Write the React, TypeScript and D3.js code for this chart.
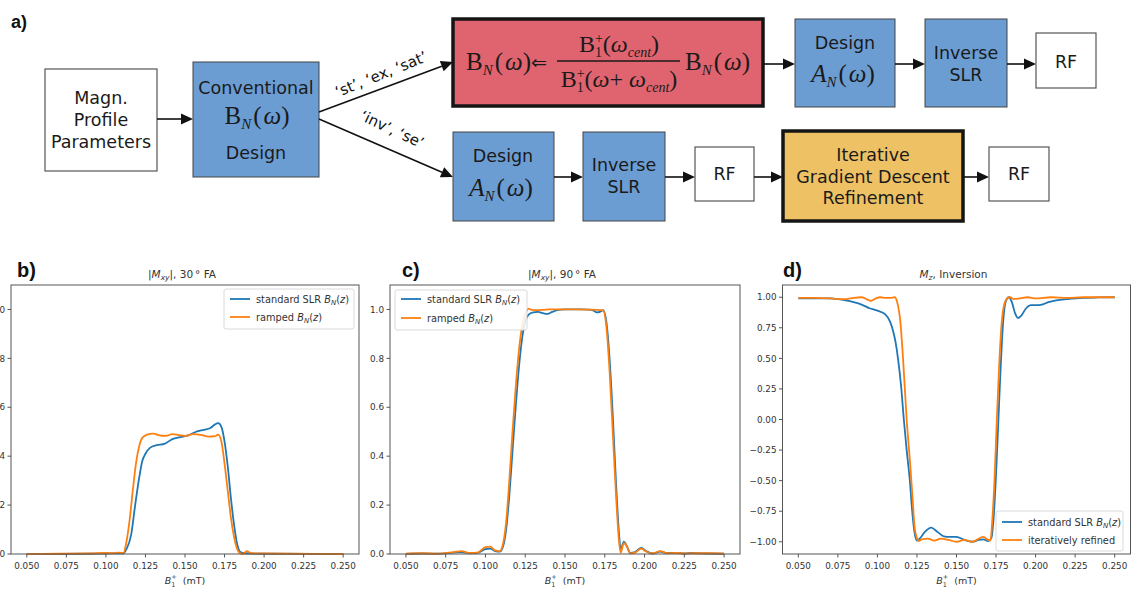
import React from 'react'
import * as d3 from 'd3'

type Pt = [number, number]

// tick values (B1+ in mT, magnetisation)
const xTicks = [0.05, 0.075, 0.1, 0.125, 0.15, 0.175, 0.2, 0.225, 0.25]
const yTicksMxy = [0, 0.2, 0.4, 0.6, 0.8, 1.0]
const yTicksMz = [-1, -0.75, -0.5, -0.25, 0, 0.25, 0.5, 0.75, 1]

// b) |Mxy|, 30 deg FA
const b30Standard: Pt[] = [
  [0.05, 0], [0.07, 0], [0.09, 0.001], [0.1, 0.002], [0.108, 0.003], [0.111, 0.002],
  [0.113, 0.02], [0.116, 0.08], [0.1185, 0.2], [0.121, 0.31], [0.123, 0.38], [0.125, 0.41],
  [0.128, 0.435], [0.132, 0.445], [0.137, 0.45], [0.142, 0.47], [0.147, 0.478], [0.152, 0.485],
  [0.157, 0.5], [0.162, 0.508], [0.166, 0.515], [0.169, 0.53], [0.171, 0.535], [0.173, 0.52],
  [0.175, 0.46], [0.177, 0.36], [0.179, 0.23], [0.181, 0.12], [0.183, 0.04], [0.185, 0.008],
  [0.188, 0.003], [0.2, 0.001], [0.25, 0],
]
const b30Ramped: Pt[] = [
  [0.05, 0], [0.07, 0.001], [0.09, 0.002], [0.1, 0.004], [0.105, 0.003], [0.108, 0.006],
  [0.111, 0.004], [0.113, 0.05], [0.115, 0.14], [0.117, 0.26], [0.119, 0.37], [0.121, 0.44],
  [0.123, 0.475], [0.126, 0.488], [0.13, 0.492], [0.134, 0.485], [0.138, 0.483], [0.142, 0.49],
  [0.146, 0.486], [0.15, 0.483], [0.155, 0.49], [0.16, 0.487], [0.165, 0.48], [0.169, 0.482],
  [0.171, 0.488], [0.173, 0.46], [0.175, 0.37], [0.177, 0.26], [0.179, 0.15], [0.181, 0.07],
  [0.183, 0.02], [0.185, 0.003], [0.187, 0.001], [0.189, 0.012], [0.192, 0.003], [0.2, 0.002],
  [0.25, 0],
]

// c) |Mxy|, 90 deg FA
const c90Standard: Pt[] = [
  [0.05, 0], [0.06, 0.002], [0.07, 0.001], [0.08, 0.006], [0.085, 0.008], [0.09, 0.003],
  [0.095, 0.005], [0.1, 0.02], [0.103, 0.022], [0.106, 0.012], [0.109, 0.01], [0.111, 0.03],
  [0.113, 0.1], [0.115, 0.24], [0.117, 0.42], [0.119, 0.6], [0.121, 0.76], [0.123, 0.88],
  [0.125, 0.95], [0.127, 0.978], [0.13, 0.988], [0.133, 0.99], [0.136, 0.985], [0.139, 0.982],
  [0.142, 0.99], [0.146, 0.998], [0.15, 1.0], [0.16, 1.0], [0.165, 0.999], [0.168, 0.995],
  [0.17, 0.988], [0.172, 0.99], [0.174, 0.997], [0.176, 0.95], [0.178, 0.8], [0.18, 0.57],
  [0.182, 0.3], [0.184, 0.08], [0.185, 0.02], [0.187, 0.05], [0.189, 0.03], [0.191, 0.005],
  [0.194, 0.008], [0.198, 0.025], [0.201, 0.012], [0.205, 0.002], [0.21, 0.01], [0.214, 0.004],
  [0.22, 0.005], [0.225, 0.002], [0.23, 0.004], [0.24, 0.002], [0.25, 0.001],
]
const c90Ramped: Pt[] = [
  [0.05, 0.001], [0.06, 0.003], [0.07, 0.001], [0.08, 0.008], [0.085, 0.012], [0.09, 0.004],
  [0.095, 0.006], [0.1, 0.028], [0.103, 0.03], [0.106, 0.015], [0.109, 0.012], [0.111, 0.04],
  [0.113, 0.13], [0.115, 0.3], [0.117, 0.5], [0.119, 0.68], [0.121, 0.83], [0.123, 0.93],
  [0.125, 0.98], [0.127, 1.003], [0.129, 0.998], [0.132, 0.997], [0.14, 1.0], [0.15, 1.0],
  [0.16, 1.0], [0.17, 0.998], [0.174, 0.995], [0.176, 0.93], [0.178, 0.75], [0.18, 0.5],
  [0.182, 0.25], [0.184, 0.05], [0.185, 0.005], [0.187, 0.045], [0.189, 0.03], [0.191, 0.003],
  [0.194, 0.006], [0.198, 0.022], [0.201, 0.01], [0.205, 0.002], [0.21, 0.012], [0.214, 0.003],
  [0.22, 0.004], [0.225, 0.002], [0.23, 0.003], [0.24, 0.003], [0.25, 0.001],
]

// d) Mz, inversion
const dInvStandard: Pt[] = [
  [0.05, 0.99], [0.06, 0.99], [0.07, 0.99], [0.075, 0.985], [0.08, 0.975], [0.085, 0.96],
  [0.09, 0.94], [0.095, 0.91], [0.1, 0.89], [0.105, 0.86], [0.108, 0.8], [0.11, 0.72],
  [0.1115, 0.63], [0.113, 0.5], [0.115, 0.27], [0.1167, 0.0], [0.1185, -0.25], [0.1205, -0.5],
  [0.122, -0.75], [0.1232, -0.9], [0.125, -0.99], [0.127, -0.97], [0.13, -0.92], [0.134, -0.885],
  [0.138, -0.92], [0.142, -0.955], [0.146, -0.96], [0.15, -0.96], [0.155, -0.985], [0.16, -1.0],
  [0.164, -0.985], [0.167, -0.98], [0.17, -0.995], [0.172, -0.97], [0.1735, -0.8], [0.175, -0.45],
  [0.1765, 0.0], [0.178, 0.45], [0.1795, 0.8], [0.181, 0.96], [0.183, 1.0], [0.185, 0.96],
  [0.187, 0.87], [0.189, 0.83], [0.191, 0.85], [0.194, 0.91], [0.197, 0.935], [0.2, 0.935],
  [0.204, 0.94], [0.208, 0.96], [0.213, 0.975], [0.22, 0.985], [0.23, 0.995], [0.24, 0.998],
  [0.25, 1.0],
]
const dInvRefined: Pt[] = [
  [0.05, 0.995], [0.06, 0.995], [0.07, 0.99], [0.075, 0.985], [0.08, 0.985], [0.085, 0.995],
  [0.09, 1.0], [0.093, 0.985], [0.096, 0.97], [0.099, 0.99], [0.102, 1.0], [0.105, 0.995],
  [0.108, 0.995], [0.111, 1.0], [0.1125, 0.96], [0.1145, 0.8], [0.1162, 0.5], [0.1185, 0.0],
  [0.1205, -0.33], [0.122, -0.6], [0.1235, -0.88], [0.125, -0.97], [0.126, -0.995], [0.128, -0.98],
  [0.132, -0.975], [0.136, -0.99], [0.14, -0.975], [0.145, -0.985], [0.15, -1.0], [0.155, -0.985],
  [0.16, -1.0], [0.164, -0.975], [0.167, -0.96], [0.17, -0.985], [0.1715, -0.99], [0.1725, -0.85],
  [0.174, -0.5], [0.1755, 0.0], [0.177, 0.45], [0.1785, 0.78], [0.18, 0.93], [0.182, 0.99],
  [0.184, 1.0], [0.186, 0.985], [0.19, 0.99], [0.195, 1.0], [0.2, 0.99], [0.21, 1.0],
  [0.22, 0.995], [0.23, 1.0], [0.24, 1.0], [0.25, 1.0],
]

const BLUE = '#1f77b4'
const ORANGE = '#ff7f0e'
const AX = '#555'
const TXT = '#333'
const MPL = 'DejaVu Sans, sans-serif'
const SERIF = 'Liberation Serif, serif'

const BOX_BLUE = '#6b9dd3'
const BOX_RED = '#e0646f'
const BOX_YEL = '#eec165'

type Series = { data: Pt[]; color: string }
type LegendItem = { label: React.ReactNode; color: string }

const BN = () => (
  <>
    <tspan fontStyle="italic">B</tspan>
    <tspan fontStyle="italic" fontSize={7} dy={2}>N</tspan>
    <tspan dy={-2}>(</tspan>
    <tspan fontStyle="italic">z</tspan>
    <tspan>)</tspan>
  </>
)

const Panel = ({
  left, right, top, bottom, ylim, yTicks, yFmt, series, legend, title, tag, tagX,
}: {
  left: number; right: number; top: number; bottom: number; ylim: [number, number]
  yTicks: number[]; yFmt: string; series: Series[]
  legend: { x: number; y: number; w: number; h: number; rows: number[]; items: LegendItem[] }
  title: React.ReactNode; tag: string; tagX: number
}) => {
  const x = d3.scaleLinear().domain([0.04, 0.26]).range([left, right])
  const y = d3.scaleLinear().domain(ylim).range([bottom, top])
  const line = d3.line<Pt>().x((d) => x(d[0])).y((d) => y(d[1])).curve(d3.curveMonotoneX)
  const fx = d3.format('.3f')
  const fy = d3.format(yFmt)
  const cx = (left + right) / 2
  return (
    <g>
      <text x={tagX} y={277} fontFamily="Liberation Sans, Arial, sans-serif" fontWeight="bold" fontSize={20} fill="#111">{tag}</text>
      <text x={cx - 3} y={278} textAnchor="middle" fontFamily={MPL} fontSize={10.5} fill={TXT}>{title}</text>
      {series.map((s, i) => (
        <path key={i} d={line(s.data) || ''} fill="none" stroke={s.color} strokeWidth={1.8} strokeLinejoin="round" />
      ))}
      <rect x={left} y={top} width={right - left} height={bottom - top} fill="none" stroke={AX} strokeWidth={1} />
      {xTicks.map((t) => (
        <g key={t}>
          <line x1={x(t)} x2={x(t)} y1={bottom} y2={bottom + 3.5} stroke={AX} />
          <text x={x(t)} y={569} textAnchor="middle" fontFamily={MPL} fontSize={8.8} fill={TXT}>{fx(t)}</text>
        </g>
      ))}
      {yTicks.map((t) => (
        <g key={t}>
          <line x1={left - 3.5} x2={left} y1={y(t)} y2={y(t)} stroke={AX} />
          <text x={left - 6} y={y(t) + 3.2} textAnchor="end" fontFamily={MPL} fontSize={8.8} fill={TXT}>{fy(t)}</text>
        </g>
      ))}
      <text x={cx} y={584} textAnchor="middle" fontFamily={MPL} fontSize={9.5} fill={TXT}>
        <tspan fontStyle="italic">B</tspan>
        <tspan fontSize={6.5} dy={2.5}>1</tspan>
        <tspan fontSize={6.5} dx={-4} dy={-7.5}>+</tspan>
        <tspan dx={3} dy={5}>{' (mT)'}</tspan>
      </text>
      <rect x={legend.x} y={legend.y} width={legend.w} height={legend.h} rx={2} fill="#fff" fillOpacity={0.85} stroke="#d0d0d0" strokeWidth={0.8} />
      {legend.items.map((it, i) => (
        <g key={i}>
          <line x1={legend.x + 6} x2={legend.x + 26} y1={legend.rows[i]} y2={legend.rows[i]} stroke={it.color} strokeWidth={1.8} />
          <text x={legend.x + 32} y={legend.rows[i] + 3.5} fontFamily={MPL} fontSize={9.8} fill={TXT}>{it.label}</text>
        </g>
      ))}
    </g>
  )
}

const Box = ({ x, y, w, h, fill, stroke = '#444', sw = 1 }: { x: number; y: number; w: number; h: number; fill: string; stroke?: string; sw?: number }) => (
  <rect x={x} y={y} width={w} height={h} fill={fill} stroke={stroke} strokeWidth={sw} />
)

const Arrow = ({ x1, y1, x2, y2 }: { x1: number; y1: number; x2: number; y2: number }) => {
  const dx = x2 - x1
  const dy = y2 - y1
  const len = Math.hypot(dx, dy)
  const ux = dx / len
  const uy = dy / len
  const hl = 12
  const hw = 5.5
  const bx = x2 - ux * hl
  const by = y2 - uy * hl
  return (
    <g>
      <line x1={x1} y1={y1} x2={bx} y2={by} stroke="#111" strokeWidth={1.6} />
      <polygon points={`${x2},${y2} ${bx - uy * hw},${by + ux * hw} ${bx + uy * hw},${by - ux * hw}`} fill="#111" />
    </g>
  )
}

const Lines = ({ cx, ys, lines, size = 17.5 }: { cx: number; ys: number[]; lines: string[]; size?: number }) => (
  <>
    {lines.map((l, i) => (
      <text key={i} x={cx} y={ys[i]} textAnchor="middle" fontFamily={MPL} fontSize={size} fill="#1a1a1a">{l}</text>
    ))}
  </>
)

const AN = ({ cx, y }: { cx: number; y: number }) => (
  <text x={cx} y={y} textAnchor="middle" fontFamily={SERIF} fontSize={25} fill="#1a1a1a">
    <tspan fontStyle="italic">A</tspan>
    <tspan fontStyle="italic" fontSize={15} dy={5}>N</tspan>
    <tspan dx={2} dy={-5}>(</tspan>
    <tspan fontStyle="italic" dx={2}>ω</tspan>
    <tspan>)</tspan>
  </text>
)

const Flow = () => (
  <g>
    <text x={11} y={28} fontFamily="Liberation Sans, Arial, sans-serif" fontWeight="bold" fontSize={18} fill="#111">a)</text>

    <Box x={45} y={69} w={112} h={102} fill="#fff" stroke="#555" sw={1.2} />
    <Lines cx={101} ys={[104, 126, 148]} lines={['Magn.', 'Profile', 'Parameters']} />

    <Box x={193} y={62} w={126} h={115} fill={BOX_BLUE} />
    <Lines cx={256} ys={[94, 159]} lines={['Conventional', 'Design']} />
    <text x={257} y={124} textAnchor="middle" fontFamily={SERIF} fontSize={25} fill="#1a1a1a">
      <tspan>B</tspan>
      <tspan fontStyle="italic" fontSize={15} dy={5}>N</tspan>
      <tspan dx={2} dy={-5}>(</tspan>
      <tspan fontStyle="italic" dx={2}>ω</tspan>
      <tspan>)</tspan>
    </text>

    <Arrow x1={157} y1={119} x2={193} y2={119} />
    <Arrow x1={319} y1={112} x2={453} y2={62} />
    <Arrow x1={319} y1={119} x2={453} y2={177} />
    <text transform="translate(383,79) rotate(-22)" textAnchor="middle" fontFamily={MPL} fontSize={15} fill="#111">‘st’, ‘ex, ‘sat’</text>
    <text transform="translate(390,134) rotate(25)" textAnchor="middle" fontFamily={MPL} fontSize={15} fill="#111">‘inv’, ‘se’</text>

    <Box x={453} y={19} w={310} h={87} fill={BOX_RED} stroke="#151515" sw={3.5} />
    <text x={466} y={70} fontFamily={SERIF} fontSize={25} fill="#1a1a1a">
      <tspan>B</tspan>
      <tspan fontStyle="italic" fontSize={15} dy={5}>N</tspan>
      <tspan dx={2} dy={-5}>(</tspan>
      <tspan fontStyle="italic" dx={2}>ω</tspan>
      <tspan>)</tspan>
      <tspan fontSize={19} dy={-1}>⇐</tspan>
    </text>
    <text x={619} y={52} textAnchor="middle" fontFamily={SERIF} fontSize={24} fill="#1a1a1a">
      <tspan>B</tspan>
      <tspan fontSize={14} dy={5}>1</tspan>
      <tspan fontSize={14} dx={-7} dy={-14}>+</tspan>
      <tspan dy={9}>(</tspan>
      <tspan fontStyle="italic">ω</tspan>
      <tspan fontStyle="italic" fontSize={14} dy={5}>cent</tspan>
      <tspan dy={-5}>)</tspan>
    </text>
    <line x1={557} x2={680} y1={61} y2={61} stroke="#1a1a1a" strokeWidth={1.4} />
    <text x={619} y={87} textAnchor="middle" fontFamily={SERIF} fontSize={24} fill="#1a1a1a">
      <tspan>B</tspan>
      <tspan fontSize={14} dy={5}>1</tspan>
      <tspan fontSize={14} dx={-7} dy={-14}>+</tspan>
      <tspan dy={9}>(</tspan>
      <tspan fontStyle="italic">ω</tspan>
      <tspan>+ </tspan>
      <tspan fontStyle="italic">ω</tspan>
      <tspan fontStyle="italic" fontSize={14} dy={5}>cent</tspan>
      <tspan dy={-5}>)</tspan>
    </text>
    <text x={685} y={70} fontFamily={SERIF} fontSize={25} fill="#1a1a1a">
      <tspan>B</tspan>
      <tspan fontStyle="italic" fontSize={15} dy={5}>N</tspan>
      <tspan dx={2} dy={-5}>(</tspan>
      <tspan fontStyle="italic" dx={2}>ω</tspan>
      <tspan>)</tspan>
    </text>

    <Arrow x1={763} y1={64} x2={795} y2={64} />
    <Box x={795} y={19} w={100} h={88} fill={BOX_BLUE} />
    <Lines cx={845} ys={[49]} lines={['Design']} />
    <AN cx={843} y={82} />
    <Arrow x1={895} y1={64} x2={925} y2={64} />
    <Box x={925} y={19} w={82} h={88} fill={BOX_BLUE} />
    <Lines cx={966} ys={[59, 81]} lines={['Inverse', 'SLR']} />
    <Arrow x1={1007} y1={64} x2={1036} y2={64} />
    <Box x={1036} y={33} w={60} h={55} fill="#fff" stroke="#555" sw={1.2} />
    <Lines cx={1066} ys={[68]} lines={['RF']} />

    <Box x={453} y={132} w={101} h={89} fill={BOX_BLUE} />
    <Lines cx={503} ys={[162]} lines={['Design']} />
    <AN cx={501} y={196} />
    <Arrow x1={554} y1={177} x2={583} y2={177} />
    <Box x={583} y={132} w={82} h={89} fill={BOX_BLUE} />
    <Lines cx={624} ys={[171, 193]} lines={['Inverse', 'SLR']} />
    <Arrow x1={665} y1={177} x2={695} y2={177} />
    <Box x={695} y={147} w={59} h={54} fill="#fff" stroke="#555" sw={1.2} />
    <Lines cx={724.5} ys={[180]} lines={['RF']} />
    <Arrow x1={754} y1={177} x2={783} y2={177} />
    <Box x={783} y={131} w={180} h={90} fill={BOX_YEL} stroke="#151515" sw={3.5} />
    <Lines cx={873} ys={[161, 183, 204]} lines={['Iterative', 'Gradient Descent', 'Refinement']} />
    <Arrow x1={963} y1={177} x2={989} y2={177} />
    <Box x={989} y={147} w={60} h={54} fill="#fff" stroke="#555" sw={1.2} />
    <Lines cx={1019} ys={[180]} lines={['RF']} />
  </g>
)

const MxyTitle = ({ fa }: { fa: string }) => (
  <>
    <tspan>|</tspan>
    <tspan fontStyle="italic">M</tspan>
    <tspan fontStyle="italic" fontSize={7.5} dy={2}>xy</tspan>
    <tspan dy={-2}>{`|, ${fa}`}</tspan>
    <tspan dx={2}>°</tspan>
    <tspan>{' FA'}</tspan>
  </>
)

export default function App() {
  return (
    <svg width={1132} height={591} viewBox="0 0 1132 591" style={{ position: 'absolute', left: 0, top: 0, background: '#fff' }}>
      <rect x={0} y={0} width={1132} height={591} fill="#fff" />
      <Flow />
      <Panel
        left={11} right={359} top={285} bottom={554} ylim={[0, 1.1]} yTicks={yTicksMxy} yFmt=".1f"
        tag="b)" tagX={17} title={<MxyTitle fa="30" />}
        series={[{ data: b30Standard, color: BLUE }, { data: b30Ramped, color: ORANGE }]}
        legend={{
          x: 224, y: 289, w: 130, h: 40, rows: [299, 317],
          items: [
            { label: <><tspan>{'standard SLR '}</tspan><BN /></>, color: BLUE },
            { label: <><tspan>{'ramped '}</tspan><BN /></>, color: ORANGE },
          ],
        }}
      />
      <Panel
        left={390} right={740} top={285} bottom={554} ylim={[0, 1.1]} yTicks={yTicksMxy} yFmt=".1f"
        tag="c)" tagX={402} title={<MxyTitle fa="90" />}
        series={[{ data: c90Standard, color: BLUE }, { data: c90Ramped, color: ORANGE }]}
        legend={{
          x: 395, y: 290, w: 132, h: 40, rows: [299, 318],
          items: [
            { label: <><tspan>{'standard SLR '}</tspan><BN /></>, color: BLUE },
            { label: <><tspan>{'ramped '}</tspan><BN /></>, color: ORANGE },
          ],
        }}
      />
      <Panel
        left={782.5} right={1130.5} top={285} bottom={554} ylim={[-1.1, 1.1]} yTicks={yTicksMz} yFmt=".2f"
        tag="d)" tagX={783}
        title={<><tspan fontStyle="italic">M</tspan><tspan fontStyle="italic" fontSize={7.5} dy={2}>z</tspan><tspan dy={-2}>, Inversion</tspan></>}
        series={[{ data: dInvStandard, color: BLUE }, { data: dInvRefined, color: ORANGE }]}
        legend={{
          x: 996, y: 511, w: 127, h: 40, rows: [522, 540],
          items: [
            { label: <><tspan>{'standard SLR '}</tspan><BN /></>, color: BLUE },
            { label: 'iteratively refined', color: ORANGE },
          ],
        }}
      />
    </svg>
  )
}
